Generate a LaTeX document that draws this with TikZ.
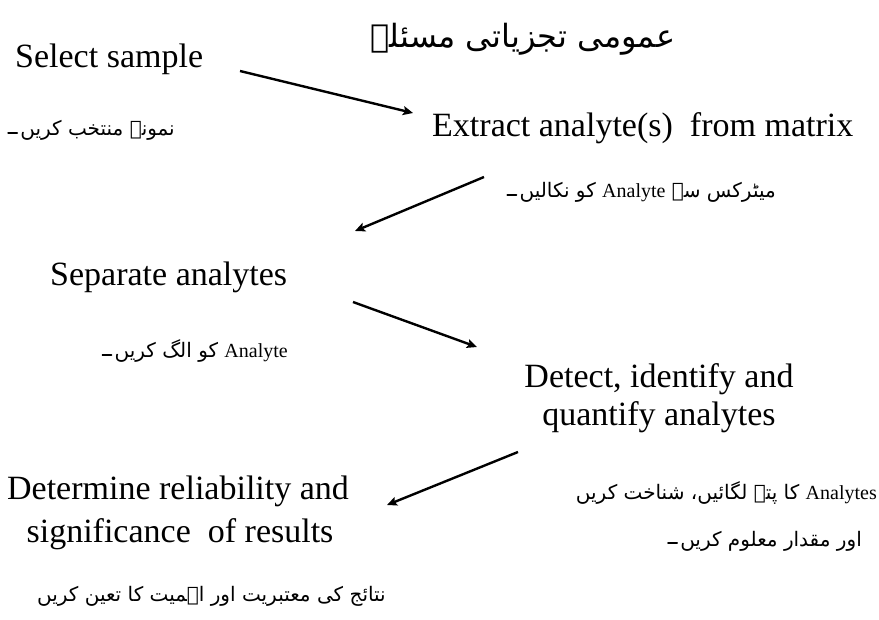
\documentclass[tikz,border=0pt]{standalone}
\usepackage{fontspec}
\setmainfont{Liberation Serif}
\newfontfamily\urdufont[Script=Arabic]{DejaVu Sans}
\TeXXeTstate=1
\usetikzlibrary{arrows.meta}

\tikzset{
  steptext/.style={font=\fontsize{34}{38}\selectfont, inner sep=0pt},
  urdutext/.style={font=\urdufont\fontsize{20}{30}\selectfont, inner sep=0pt, anchor=base east},
  fullstop/.style={line width=1.8pt, line cap=round},
  flow/.style={line width=2.4pt, -{Stealth[length=10pt,width=9pt,inset=2pt]}}
}

\begin{document}
\begin{tikzpicture}[x=1pt,y=-1pt]
  \useasboundingbox (0,0) rectangle (879,620);
  \fill[white] (0,0) rectangle (879,620);

  % heading
  \node[font=\urdufont\fontsize{32}{36}\selectfont, inner sep=0pt, anchor=base] (title) at (523,48)
    {\beginR عمومی تجزیاتی مسئلہ\endR};

  % step 1
  \node[steptext, anchor=base west] (select) at (15,68) {Select sample};
  \node[urdutext] (selectU) at (175,136) {\beginR نمونہ منتخب کریں\endR};
  \draw[fullstop] ([xshift=-3pt,yshift=3pt]selectU.base west) -- ++(-9,0);

  % step 2
  \node[steptext, anchor=base west] (extract) at (432,137) {Extract analyte(s)\ \ from matrix};
  \node[urdutext] (extractU) at (776,198)
    {\beginR میٹرکس سے \beginL{\rmfamily Analyte}\endL{} کو نکالیں\endR};
  \draw[fullstop] ([xshift=-3pt,yshift=3pt]extractU.base west) -- ++(-9,0);

  % step 3
  \node[steptext, anchor=base west] (separate) at (50,286) {Separate analytes};
  \node[urdutext] (separateU) at (288,358)
    {\beginR\beginL{\rmfamily Analyte}\endL{} کو الگ کریں\endR};
  \draw[fullstop] ([xshift=-3pt,yshift=3pt]separateU.base west) -- ++(-9,0);

  % step 4
  \node[steptext, anchor=base] (detectA) at (659,388) {Detect, identify and};
  \node[steptext, anchor=base] (detectB) at (659,426) {quantify analytes};
  \node[urdutext] (detectU1) at (877,500)
    {\beginR\beginL{\rmfamily Analytes}\endL{} کا پتہ لگائیں، شناخت کریں\endR};
  \node[urdutext] (detectU2) at (862,546)
    {\beginR اور مقدار معلوم کریں\endR};
  \draw[fullstop] ([xshift=-3pt,yshift=3pt]detectU2.base west) -- ++(-9,0);

  % step 5
  \node[steptext, anchor=base] (determineA) at (178,500) {Determine reliability and};
  \node[steptext, anchor=base] (determineB) at (180,542) {significance\ \ of results};
  \node[urdutext] (determineU) at (386,601)
    {\beginR نتائج کی معتبریت اور اہمیت کا تعین کریں\endR};

  % arrow end points
  \coordinate (a1s) at (240,71);  \coordinate (a1e) at (413,113);
  \coordinate (a2s) at (484,177); \coordinate (a2e) at (355,231);
  \coordinate (a3s) at (353,302); \coordinate (a3e) at (477,347);
  \coordinate (a4s) at (518,452); \coordinate (a4e) at (387,505);

  \draw[flow] (a1s) -- (a1e);
  \draw[flow] (a2s) -- (a2e);
  \draw[flow] (a3s) -- (a3e);
  \draw[flow] (a4s) -- (a4e);
\end{tikzpicture}
\end{document}
